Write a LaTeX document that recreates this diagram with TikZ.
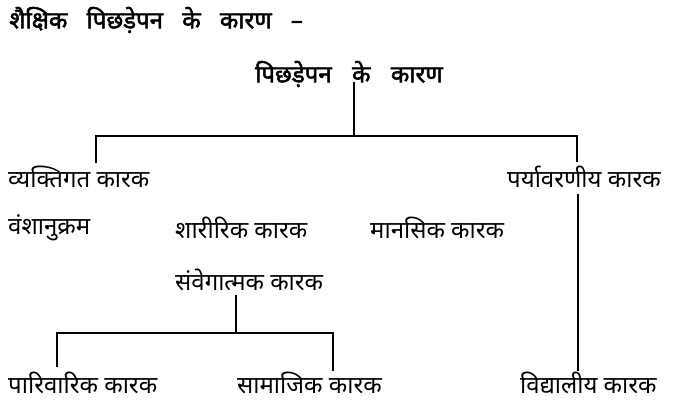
\documentclass[tikz,border=0pt]{standalone}
\usepackage{fontspec}
\setmainfont[Script=Devanagari,BoldFont={Noto Sans},BoldFeatures={FakeBold=2.2}]{Noto Sans}
\begin{document}
\begin{tikzpicture}[x=1pt,y=-1pt,
  lbl/.style={anchor=west,inner sep=0pt,font=\fontsize{24}{26}\selectfont},
  hd/.style={anchor=west,inner sep=0pt,font=\fontsize{24}{26}\selectfont\bfseries},
  conn/.style={line width=1.6pt}]
\useasboundingbox (0,0) rectangle (675,404);
\node[hd] (title) at (9,20) {शैक्षिक\hspace{0.8em}पिछड़ेपन\hspace{0.8em}के\hspace{0.8em}कारण\hspace{0.8em}–};
\node[hd] (root) at (255,74) {पिछड़ेपन\hspace{0.85em}के\hspace{0.85em}कारण};
\node[lbl] (vyakti) at (8,177) {व्यक्तिगत कारक};
\node[lbl] (paryav) at (507,177) {पर्यावरणीय कारक};
\node[lbl] (vansh) at (8,228) {वंशानुक्रम};
\node[lbl] (sharir) at (175,228) {शारीरिक कारक};
\node[lbl] (manas) at (370,228) {मानसिक कारक};
\node[lbl] (samveg) at (175,280) {संवेगात्मक कारक};
\node[lbl] (pariv) at (8,383) {पारिवारिक कारक};
\node[lbl] (samaj) at (237,383) {सामाजिक कारक};
\node[lbl] (vidya) at (520,383) {विद्यालीय कारक};
\coordinate (r0) at (354,82);
\coordinate (j1) at (354,136);
\coordinate (l1) at (96,136);
\coordinate (l1e) at (96,163);
\coordinate (rr1) at (577,136);
\coordinate (rr1e) at (577,162);
\coordinate (v0) at (578,194);
\coordinate (v1) at (578,371);
\coordinate (s0) at (236,295);
\coordinate (j2) at (236,333);
\coordinate (p1) at (57,333);
\coordinate (p1e) at (57,367);
\coordinate (q1) at (333,333);
\coordinate (q1e) at (333,371);
\draw[conn] (r0) -- (j1);
\draw[conn] (l1e) -- (l1) -- (rr1) -- (rr1e);
\draw[conn] (v0) -- (v1);
\draw[conn] (s0) -- (j2);
\draw[conn] (p1e) -- (p1) -- (q1) -- (q1e);
\end{tikzpicture}
\end{document}
